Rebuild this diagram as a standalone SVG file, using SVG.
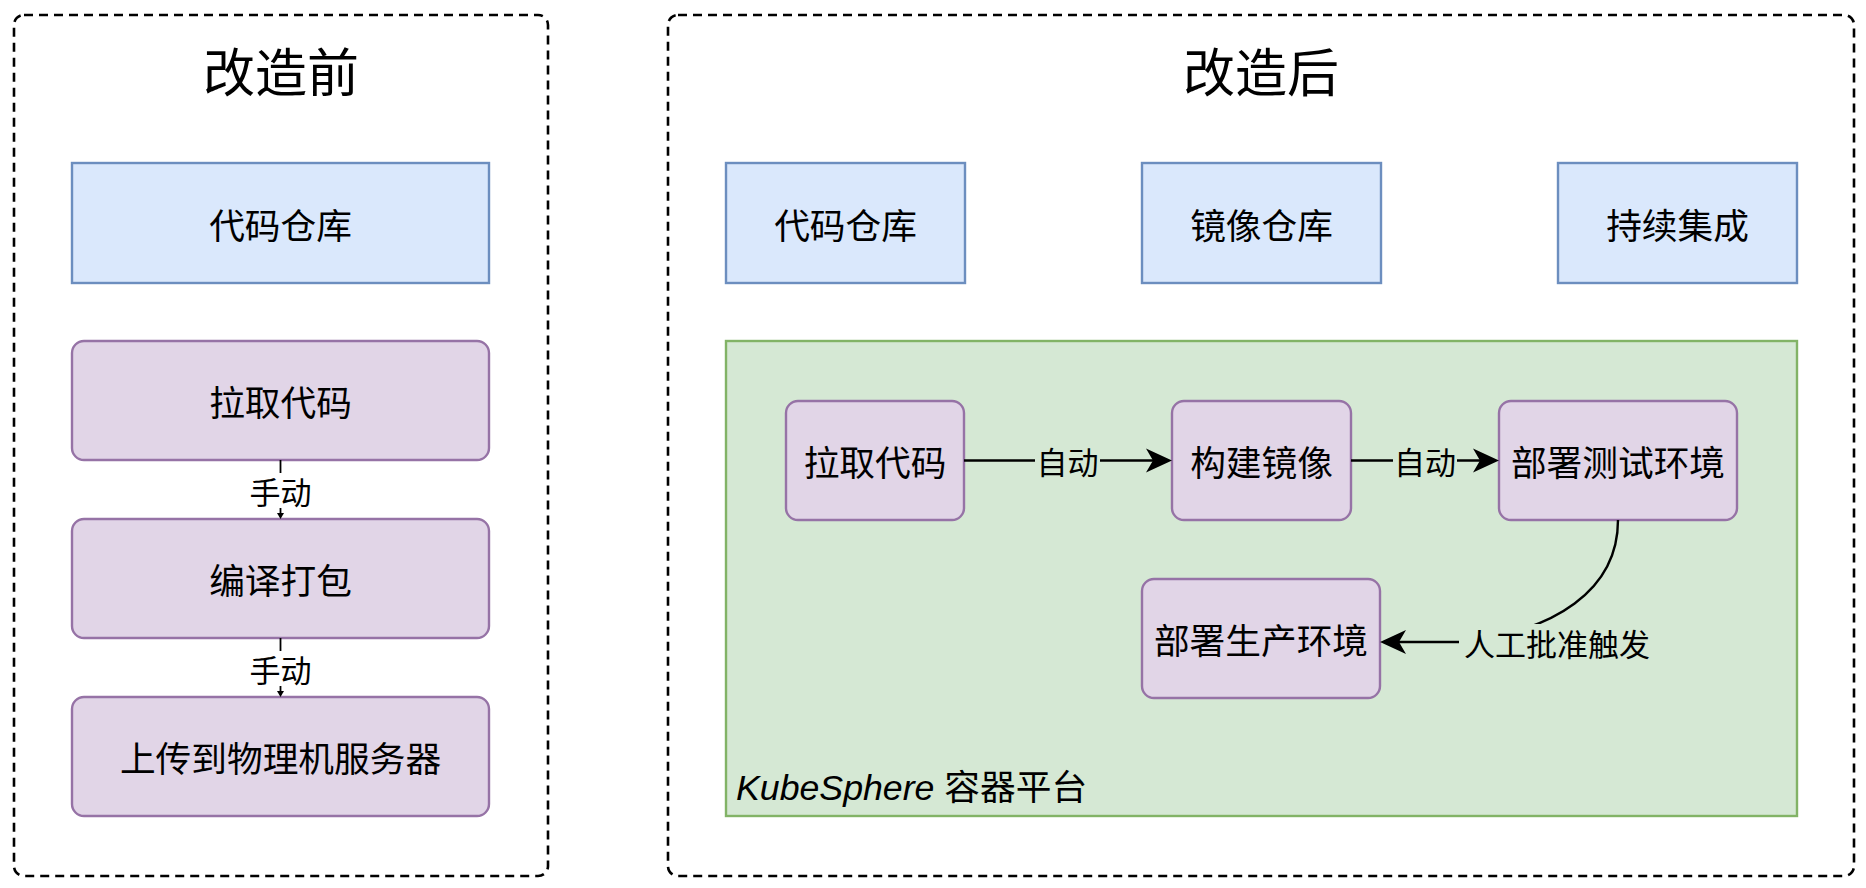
<svg xmlns="http://www.w3.org/2000/svg" width="1866" height="888" viewBox="0 0 1866 888">
<defs>
<style>
.cjk{font-family:"Noto Sans CJK SC","Noto Sans",sans-serif;fill:#000;}
.title{font-size:52px;text-anchor:middle;dominant-baseline:central;}
.t{font-size:35.7px;text-anchor:middle;dominant-baseline:central;}
.lbl{font-size:31px;text-anchor:middle;dominant-baseline:central;}
.frame{fill:#fff;stroke:#000;stroke-width:2.6;stroke-dasharray:9 6;}
.blue{fill:#dae8fc;stroke:#6c8ebf;stroke-width:2.4;}
.purple{fill:#e1d5e7;stroke:#9673a6;stroke-width:2.4;}
.green{fill:#d5e8d4;stroke:#82b366;stroke-width:2.4;}
.thin{fill:none;stroke:#000;stroke-width:1.8;}
.thick{fill:none;stroke:#000;stroke-width:2.4;}
</style>
<marker id="arrS" markerUnits="userSpaceOnUse" viewBox="-8 -5 10 10" markerWidth="10" markerHeight="10" refX="-5" refY="0" orient="auto">
<path d="M0,0 L-6,-3.5 L-6,3.5 Z" fill="#000"/>
</marker>
<marker id="arrL" markerUnits="userSpaceOnUse" viewBox="-28 -14 30 28" markerWidth="30" markerHeight="28" refX="-19" refY="0" orient="auto">
<path d="M0,0 L-26,-12 L-19,0 L-26,12 Z" fill="#000"/>
</marker>
</defs>

<g id="before">
<rect class="frame" x="14" y="15" width="534" height="861" rx="10"/>
<text class="cjk title" x="281" y="69">改造前</text>
</g>

<g id="after">
<rect class="frame" x="668" y="15" width="1186" height="861" rx="10"/>
<text class="cjk title" x="1261" y="69">改造后</text>
</g>

<g id="kubesphere">
<rect class="green" x="726" y="341" width="1071" height="475"/>
<text x="736" y="800" style="font-family:'Liberation Sans',Arial,sans-serif;font-style:italic;font-size:35.7px;fill:#000;">KubeSphere <tspan style="font-family:'Noto Sans CJK SC',sans-serif;font-style:normal;">容器平台</tspan></text>
</g>

<g id="old-repo">
<rect class="blue" x="72" y="163" width="417" height="120"/>
<text class="cjk t" x="280.5" y="223">代码仓库</text>
</g>
<g id="old-pull">
<rect class="purple" x="72" y="341" width="417" height="119" rx="12"/>
<text class="cjk t" x="280.5" y="400.5">拉取代码</text>
</g>
<g id="old-build">
<rect class="purple" x="72" y="519" width="417" height="119" rx="12"/>
<text class="cjk t" x="280.5" y="578.5">编译打包</text>
</g>
<g id="old-upload">
<rect class="purple" x="72" y="697" width="417" height="119" rx="12"/>
<text class="cjk t" x="280.5" y="756.5">上传到物理机服务器</text>
</g>

<g id="new-repo">
<rect class="blue" x="726" y="163" width="239" height="120"/>
<text class="cjk t" x="845.5" y="223">代码仓库</text>
</g>
<g id="image-repo">
<rect class="blue" x="1142" y="163" width="239" height="120"/>
<text class="cjk t" x="1261.5" y="223">镜像仓库</text>
</g>
<g id="ci">
<rect class="blue" x="1558" y="163" width="239" height="120"/>
<text class="cjk t" x="1677.5" y="223">持续集成</text>
</g>

<g id="new-pull">
<rect class="purple" x="786" y="401" width="178" height="119" rx="12"/>
<text class="cjk t" x="875" y="460.5">拉取代码</text>
</g>
<g id="new-build">
<rect class="purple" x="1172" y="401" width="179" height="119" rx="12"/>
<text class="cjk t" x="1261.5" y="460.5">构建镜像</text>
</g>
<g id="deploy-test">
<rect class="purple" x="1499" y="401" width="238" height="119" rx="12"/>
<text class="cjk t" x="1618" y="460.5">部署测试环境</text>
</g>
<g id="deploy-prod">
<rect class="purple" x="1142" y="579" width="238" height="119" rx="12"/>
<text class="cjk t" x="1261" y="638.5">部署生产环境</text>
</g>

<g id="connectors">
<path class="thin" d="M280.5,460 L280.5,514" marker-end="url(#arrS)"/>
<rect x="248" y="473" width="65" height="35" fill="#fff"/>
<text class="cjk lbl" x="280.5" y="490">手动</text>

<path class="thin" d="M280.5,638 L280.5,692" marker-end="url(#arrS)"/>
<rect x="248" y="651" width="65" height="35" fill="#fff"/>
<text class="cjk lbl" x="280.5" y="668">手动</text>

<path class="thick" d="M964,460.5 L1153,460.5" marker-end="url(#arrL)"/>
<rect x="1035" y="443" width="65" height="35" fill="#d5e8d4"/>
<text class="cjk lbl" x="1067.5" y="460.5">自动</text>

<path class="thick" d="M1351,460.5 L1480,460.5" marker-end="url(#arrL)"/>
<rect x="1393" y="443" width="64" height="35" fill="#d5e8d4"/>
<text class="cjk lbl" x="1425" y="460.5">自动</text>

<path class="thick" d="M1618,520 C1618,590 1555,632 1460,642 L1399,642" marker-end="url(#arrL)"/>
<rect x="1459" y="624" width="197" height="37" fill="#d5e8d4"/>
<text class="cjk lbl" x="1557" y="642">人工批准触发</text>
</g>
</svg>
